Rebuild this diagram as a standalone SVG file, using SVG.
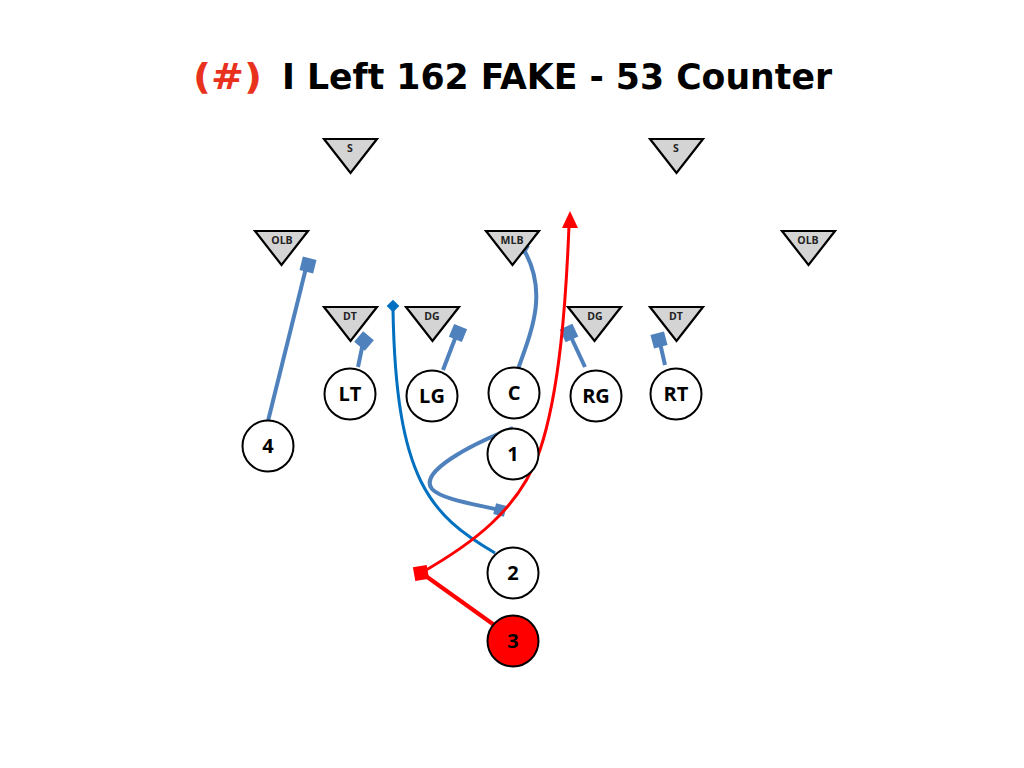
<svg xmlns="http://www.w3.org/2000/svg" width="1024" height="768" viewBox="0 0 1024 768">
<style>
.tri{fill:#d4d4d4;stroke:#000;stroke-width:2.2;stroke-linejoin:miter}
.tl{font-family:"Open Sans","Liberation Sans",sans-serif;font-weight:bold;font-size:10.5px;fill:#222;text-anchor:middle}
.pl{fill:#fff;stroke:#000;stroke-width:2}
.plt{font-family:"Open Sans","Liberation Sans",sans-serif;font-weight:bold;font-size:20px;fill:#000;text-anchor:middle}
.blk{fill:none;stroke:#4f81bd;stroke-width:4}
.blkh{fill:#4f81bd}
</style>
<rect width="1024" height="768" fill="#fff"/>
<g id="title" font-family="'DejaVu Sans Condensed','DejaVu Sans',sans-serif" font-weight="bold" font-size="36">
<text x="193" y="89" fill="#e8321e" textLength="69" lengthAdjust="spacingAndGlyphs">(#)</text>
<text x="282" y="89" fill="#000" textLength="550" lengthAdjust="spacingAndGlyphs">I Left 162 FAKE - 53 Counter</text>
</g>
<g id="connectors">
<line class="blk" x1="268" y1="421" x2="306" y2="268"/>
<rect class="blkh" x="-7" y="-7" width="14" height="14" transform="translate(308,265) rotate(14)"/>
<line class="blk" x1="358" y1="367" x2="363" y2="343"/>
<rect class="blkh" x="-7" y="-7" width="14" height="14" transform="translate(364,341) rotate(40)"/>
<line class="blk" x1="443" y1="370" x2="456" y2="336"/>
<rect class="blkh" x="-7" y="-7" width="14" height="14" transform="translate(458,333) rotate(22)"/>
<path class="blk" stroke-width="3" d="M518 369 C532 330 548 292 524 250"/>
<rect class="blkh" x="-5" y="-5" width="10" height="10" transform="translate(523,248) rotate(30)"/>
<line class="blk" x1="585" y1="367" x2="571" y2="337"/>
<rect class="blkh" x="-7" y="-7" width="14" height="14" transform="translate(569,333) rotate(-25)"/>
<line class="blk" x1="665" y1="365" x2="660" y2="343"/>
<rect class="blkh" x="-7" y="-7" width="14" height="14" transform="translate(659,340) rotate(-15)"/>
<path class="blk" stroke-width="3" d="M513 428 C470 445 418 472 432 489 C442 500 480 505 499 510"/>
<rect class="blkh" x="-5.5" y="-5.5" width="11" height="11" transform="translate(500,510) rotate(15)"/>
<path d="M495 553 C430 515 396 480 393 310" fill="none" stroke="#0070c0" stroke-width="3"/>
<rect x="-4.5" y="-4.5" width="9" height="9" fill="#0070c0" transform="translate(393,306) rotate(45)"/>
<path d="M497 627 L423 574" fill="none" stroke="#ff0000" stroke-width="4"/>
<path d="M421 573 C470 545 520 510 540 450 C560 390 566 300 569 226" fill="none" stroke="#ff0000" stroke-width="3"/>
<rect x="-7" y="-7" width="14" height="14" fill="#ff0000" transform="translate(421,573) rotate(-10)"/>
<polygon points="570,211 562,228 578,228" fill="#ff0000"/>
</g>
<g id="S1"><polygon class="tri" points="324,139 377,139 350.5,173"/><text class="tl" x="350" y="152">S</text></g>
<g id="S2"><polygon class="tri" points="650,139 703,139 676.5,173"/><text class="tl" x="676" y="152">S</text></g>
<g id="OLB1"><polygon class="tri" points="255,231 308,231 281.5,265"/><text class="tl" x="282" y="244">OLB</text></g>
<g id="MLB"><polygon class="tri" points="486,231 539,231 512.5,265"/><text class="tl" x="512" y="244">MLB</text></g>
<g id="OLB2"><polygon class="tri" points="782,231 835,231 808.5,265"/><text class="tl" x="808" y="244">OLB</text></g>
<g id="DT1"><polygon class="tri" points="324,307 377,307 350.5,341"/><text class="tl" x="350" y="320">DT</text></g>
<g id="DG1"><polygon class="tri" points="406,307 459,307 432.5,341"/><text class="tl" x="432" y="320">DG</text></g>
<g id="DG2"><polygon class="tri" points="568,307 621,307 594.5,341"/><text class="tl" x="595" y="320">DG</text></g>
<g id="DT2"><polygon class="tri" points="650,307 703,307 676.5,341"/><text class="tl" x="676" y="320">DT</text></g>
<g id="LT"><circle class="pl" cx="350" cy="394" r="25.5"/><text class="plt" x="350" y="401">LT</text></g>
<g id="LG"><circle class="pl" cx="432" cy="396" r="25.5"/><text class="plt" x="432" y="403">LG</text></g>
<g id="C"><circle class="pl" cx="514" cy="393" r="25.5"/><text class="plt" x="514" y="400">C</text></g>
<g id="RG"><circle class="pl" cx="596" cy="396" r="25.5"/><text class="plt" x="596" y="403">RG</text></g>
<g id="RT"><circle class="pl" cx="676" cy="394" r="25.5"/><text class="plt" x="676" y="401">RT</text></g>
<g id="P4"><circle class="pl" cx="268" cy="446" r="25.5"/><text class="plt" x="268" y="453" font-size="18">4</text></g>
<g id="P1"><circle class="pl" cx="513" cy="454" r="25.5"/><text class="plt" x="513" y="461" font-size="18">1</text></g>
<g id="P2"><circle class="pl" cx="513" cy="573" r="25.5"/><text class="plt" x="513" y="580" font-size="18">2</text></g>
<g id="P3"><circle cx="513" cy="641" r="25.5" fill="#ff0000" stroke="#000" stroke-width="2"/><text class="plt" x="513" y="648" font-size="18">3</text></g>
</svg>
